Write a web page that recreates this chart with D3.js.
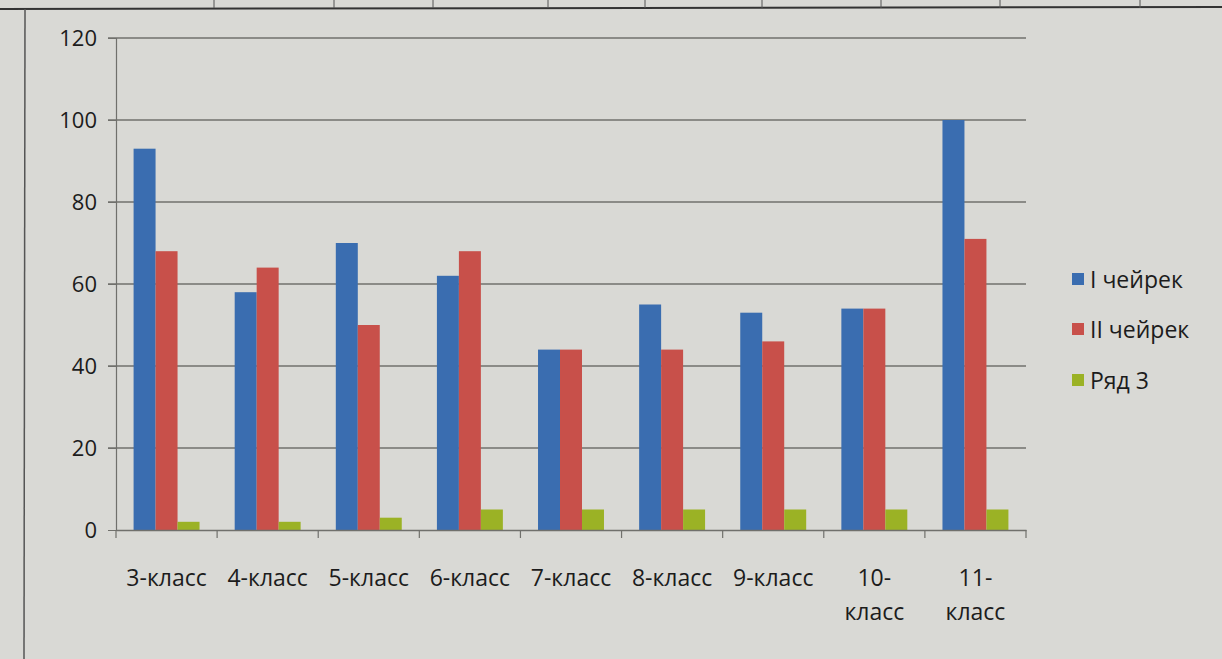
<!DOCTYPE html>
<html><head><meta charset="utf-8">
<script src="https://cdn.jsdelivr.net/npm/d3@7/dist/d3.min.js"></script>
<style>
html,body{margin:0;padding:0;background:#d8d8d4;}
svg{display:block;}
text{font-family:"Open Sans","Noto Sans",sans-serif;fill:#1c1c1c;}
</style></head>
<body>
<svg id="chart" width="1222" height="659"></svg>
<script>
const categories = ["3-класс","4-класс","5-класс","6-класс","7-класс","8-класс","9-класс","10-класс","11-класс"];
const seriesNames = ["I чейрек","II чейрек","Ряд 3"];
const s1 = [93,58,70,62,44,55,53,54,100];
const s2 = [68,64,50,68,44,44,46,54,71];
const s3 = [2,2,3,5,5,5,5,5,5];
const yTicks = [0,20,40,60,80,100,120];
const colors = ["#3a6db0","#c8504a","#9bb225"];

(function(){
const series = [s1,s2,s3];
const svg = d3.select("#chart");
const W = 1222, H = 659;

// background frame (photo of a sheet)
svg.append("rect").attr("width",W).attr("height",H).attr("fill","#d9d9d5");
svg.append("line").attr("x1",0).attr("x2",W).attr("y1",9).attr("y2",7).attr("stroke","#333").attr("stroke-width",2);
svg.append("line").attr("x1",25).attr("x2",24).attr("y1",9).attr("y2",H).attr("stroke","#555").attr("stroke-width",1.5);
[214,334,433,548,645,762,881,1000,1140].forEach(xx=>{
  svg.append("line").attr("x1",xx).attr("x2",xx).attr("y1",0).attr("y2",8).attr("stroke","#555").attr("stroke-width",1);
});

const pLeft = 116, pRight = 1026, pTop = 38, pBottom = 530;
const x = d3.scaleBand().domain(categories).range([pLeft,pRight]).paddingInner(0).paddingOuter(0);
const y = d3.scaleLinear().domain([0,120]).range([pBottom,pTop]);
const inner = d3.scaleBand().domain(d3.range(series.length)).range([0, x.bandwidth()]).paddingInner(0).paddingOuter(0.8);

// gridlines
svg.append("g").selectAll("line").data(yTicks.filter(d=>d>0)).join("line")
  .attr("x1",pLeft-8).attr("x2",pRight).attr("y1",d=>y(d)).attr("y2",d=>y(d))
  .attr("stroke","#70706c").attr("stroke-width",1.6);

// y axis
const yAxis = d3.axisLeft(y).tickValues(yTicks).tickSize(8).tickPadding(11).tickFormat(d3.format("d"));
const ya = svg.append("g").attr("transform",`translate(${pLeft},0)`).call(yAxis);
ya.select(".domain").attr("stroke","#70706c").attr("stroke-width",1.2);
ya.selectAll(".tick line").attr("stroke","#70706c");
ya.selectAll(".tick text").style("font-size","22px").attr("fill","#1c1c1c");

// bars
series.forEach((vals,si)=>{
  svg.append("g").selectAll("rect").data(vals).join("rect")
    .attr("x",(d,i)=>x(categories[i])+inner(si))
    .attr("width",inner.bandwidth())
    .attr("y",d=>y(d))
    .attr("height",d=>pBottom-y(d))
    .attr("fill",colors[si]);
});

// x axis
const xAxis = d3.axisBottom(x).tickSize(0).tickFormat("");
const xa = svg.append("g").attr("transform",`translate(0,${pBottom})`).call(xAxis);
xa.select(".domain").attr("stroke","#70706c").attr("stroke-width",1.6);
const bounds = categories.map(c=>x(c)).concat([pRight]);
svg.append("g").selectAll("line").data(bounds).join("line")
  .attr("x1",d=>d).attr("x2",d=>d).attr("y1",pBottom).attr("y2",pBottom+8)
  .attr("stroke","#70706c").attr("stroke-width",1.2);

// category labels
categories.forEach(c=>{
  const cx = x(c)+x.bandwidth()/2;
  const parts = c.length>7 ? [c.split("-")[0]+"-","класс"] : [c];
  const t = svg.append("text").attr("x",cx).attr("y",586).attr("text-anchor","middle").style("font-size","23px");
  parts.forEach((p,i)=>t.append("tspan").attr("x",cx).attr("dy",i===0?0:34).text(p));
});

// legend
const legY = [280,330,381];
seriesNames.forEach((n,i)=>{
  svg.append("rect").attr("x",1072).attr("y",legY[i]-7).attr("width",12).attr("height",12).attr("fill",colors[i]);
  svg.append("text").attr("x",1090).attr("y",legY[i]).attr("dy","0.35em").style("font-size","23px").text(n);
});
})();
</script>
</body></html>
